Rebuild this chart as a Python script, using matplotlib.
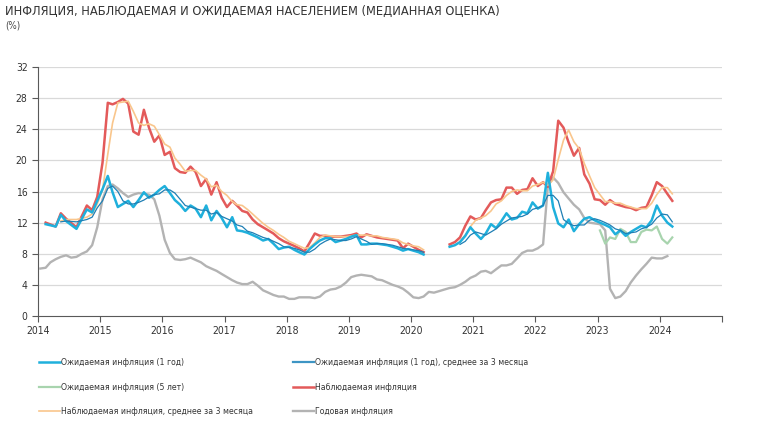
import matplotlib
matplotlib.use("Agg")
import matplotlib.pyplot as plt
from matplotlib.lines import Line2D
import numpy as np
import pandas as pd

plt.rcParams['font.family'] = ['DejaVu Sans']
plt.rcParams['font.stretch'] = 'condensed'

# survey months (2014 irregular, then monthly; gap Apr-Jul 2020 as None)
survey_months = ["2014-02", "2014-04", "2014-05", "2014-06", "2014-08", "2014-10", "2014-11", "2014-12"] + \
    [f"{y}-{m:02d}" for y in range(2015, 2025) for m in range(1, 13)][:111]

observed = [
    12.0, 11.5, 13.2, 12.5, 11.4, 14.2, 13.6, 15.3,
    19.7, 27.4, 27.2, 27.5, 27.9, 27.3, 23.7, 23.3, 26.5, 24.2, 22.4, 23.2,
    20.7, 21.1, 19.0, 18.5, 18.4, 19.2, 18.5, 16.7, 17.6, 15.6, 17.2, 15.2,
    14.0, 14.8, 14.2, 13.5, 13.3, 12.4, 11.8, 11.4, 11.0, 10.6, 10.0, 9.6,
    9.3, 9.0, 8.7, 8.3, 9.4, 10.6, 10.3, 10.3, 10.2, 10.2, 10.2, 10.3,
    10.4, 10.6, 10.1, 10.5, 10.3, 10.1, 10.0, 9.9, 9.8, 9.7, 8.7, 9.3,
    8.9, 8.5, 8.2, None, None, None, None, 9.2, 9.5, 10.1, 11.6, 12.8,
    12.4, 12.6, 13.6, 14.6, 14.9, 15.0, 16.5, 16.5, 15.7, 16.2, 16.3, 17.7,
    16.7, 17.2, 16.6, 18.6, 25.1, 24.2, 22.3, 20.6, 21.6, 18.2, 17.0, 15.0,
    14.9, 14.3, 14.9, 14.4, 14.2, 14.0, 13.9, 13.6, 13.9, 14.0, 15.5, 17.2,
    16.7, 15.7, 14.8]

observed_3m = [
    None, None, 12.2, 12.4, 12.4, 12.7, 13.1, 14.4,
    16.2, 20.8, 24.8, 27.4, 27.5, 27.6, 26.3, 24.8, 24.5, 24.7, 24.4, 23.3,
    22.1, 21.7, 20.3, 19.5, 18.6, 18.7, 18.7, 18.1, 17.6, 16.6, 16.8, 16.0,
    15.5, 14.7, 14.3, 14.2, 13.7, 13.1, 12.5, 11.9, 11.4, 11.0, 10.5, 10.1,
    9.6, 9.3, 9.0, 8.7, 8.8, 9.4, 10.1, 10.4, 10.3, 10.2, 10.2, 10.2,
    10.3, 10.4, 10.4, 10.4, 10.3, 10.3, 10.1, 10.0, 9.9, 9.8, 9.4, 9.2,
    9.0, 8.9, 8.5, None, None, None, None, None, None, 9.6, 10.4, 11.5,
    12.3, 12.6, 12.9, 13.5, 14.4, 14.8, 15.5, 16.0, 16.2, 16.1, 16.1, 16.7,
    16.9, 17.2, 16.8, 17.5, 20.1, 22.6, 23.9, 22.4, 21.5, 19.6, 18.0, 16.5,
    15.6, 14.7, 14.7, 14.5, 14.5, 14.2, 14.0, 13.8, 13.8, 13.8, 14.5, 15.6,
    16.5, 16.5, 15.7]

expected_1y = [
    11.8, 11.5, 13.0, 12.2, 11.2, 13.7, 13.3, 14.8,
    16.3, 18.0, 15.9, 14.0, 14.4, 14.8, 14.0, 14.9, 15.9, 15.2, 15.6, 16.2,
    16.7, 15.8, 14.9, 14.3, 13.5, 14.2, 13.8, 12.7, 14.2, 12.3, 13.5, 12.6,
    11.4, 12.7, 11.0, 10.9, 10.7, 10.4, 10.1, 9.7, 9.9, 9.3, 8.6, 8.8,
    8.9, 8.5, 8.2, 7.9, 8.6, 9.2, 9.7, 10.0, 10.0, 9.5, 9.7, 9.9,
    10.2, 10.4, 9.2, 9.2, 9.3, 9.3, 9.2, 9.1, 8.9, 8.7, 8.4, 8.6,
    8.4, 8.2, 7.9, None, None, None, None, 8.9, 9.1, 9.5, 10.3, 11.4,
    10.6, 9.9, 10.6, 11.8, 11.3, 12.2, 13.2, 12.4, 12.6, 13.4, 13.2, 14.6,
    13.8, 14.2, 18.4, 14.0, 11.9, 11.4, 12.4, 10.9, 11.8, 12.5, 12.7, 12.3,
    12.0, 11.7, 11.4, 10.5, 11.0, 10.3, 10.8, 11.2, 11.6, 11.4, 12.3, 14.2,
    12.9, 12.0, 11.5]

expected_1y_3m = [
    None, None, 12.1, 12.2, 12.1, 12.4, 12.7, 13.9,
    14.8, 16.4, 16.7, 16.0, 14.8, 14.4, 14.4, 14.6, 14.9, 15.3, 15.6, 15.7,
    16.2, 16.2, 15.8, 15.0, 14.2, 14.0, 13.8, 13.6, 13.6, 13.1, 13.3, 12.8,
    12.5, 12.2, 11.7, 11.5, 10.9, 10.7, 10.4, 10.1, 9.9, 9.6, 9.3, 8.9,
    8.8, 8.7, 8.5, 8.2, 8.2, 8.6, 9.2, 9.6, 9.9, 9.8, 9.7, 9.7,
    9.9, 10.2, 9.9, 9.6, 9.2, 9.3, 9.3, 9.2, 9.1, 8.9, 8.7, 8.6,
    8.5, 8.4, 8.2, None, None, None, None, None, None, 9.2, 9.6, 10.4,
    10.8, 10.6, 10.4, 10.8, 11.2, 11.8, 12.2, 12.6, 12.7, 12.8, 13.1, 13.7,
    13.9, 14.2, 15.5, 15.5, 14.8, 12.4, 11.9, 11.6, 11.7, 11.7, 12.3, 12.5,
    12.3, 12.0, 11.7, 11.2, 11.0, 10.6, 10.7, 10.8, 11.2, 11.4, 11.8, 12.6,
    13.1, 13.0, 12.1]

expected_5y_start = "2023-01"
expected_5y = [11.0, 9.3, 10.1, 9.9, 11.2, 10.8, 9.5, 9.5, 10.8, 11.1, 11.0, 11.5, 9.9, 9.3, 10.1]

cpi_start = "2014-01"
cpi = [
    6.1, 6.2, 6.9, 7.3, 7.6, 7.8, 7.5, 7.6, 8.0, 8.3, 9.1, 11.4,
    15.0, 16.7, 16.9, 16.4, 15.8, 15.3, 15.6, 15.8, 15.7, 15.6, 15.0, 12.9,
    9.8, 8.1, 7.3, 7.2, 7.3, 7.5, 7.2, 6.9, 6.4, 6.1, 5.8, 5.4,
    5.0, 4.6, 4.3, 4.1, 4.1, 4.4, 3.9, 3.3, 3.0, 2.7, 2.5, 2.5,
    2.2, 2.2, 2.4, 2.4, 2.4, 2.3, 2.5, 3.1, 3.4, 3.5, 3.8, 4.3,
    5.0, 5.2, 5.3, 5.2, 5.1, 4.7, 4.6, 4.3, 4.0, 3.8, 3.5, 3.0,
    2.4, 2.3, 2.5, 3.1, 3.0, 3.2, 3.4, 3.6, 3.7, 4.0, 4.4, 4.9,
    5.2, 5.7, 5.8, 5.5, 6.0, 6.5, 6.5, 6.7, 7.4, 8.1, 8.4, 8.4,
    8.7, 9.2, 16.7, 17.8, 17.1, 15.9, 15.1, 14.3, 13.7, 12.6, 12.0, 11.9,
    11.8, 11.0, 3.5, 2.3, 2.5, 3.2, 4.3, 5.2, 6.0, 6.7, 7.5, 7.4,
    7.4, 7.7]

labels = ["Ожидаемая инфляция (1 год)", "Ожидаемая инфляция (5 лет)",
          "Наблюдаемая инфляция, среднее за 3 месяца",
          "Ожидаемая инфляция (1 год), среднее за 3 месяца", "Наблюдаемая инфляция",
          "Годовая инфляция"]

mid = pd.Timedelta(days=14)
d_survey = pd.to_datetime(survey_months) + mid
d_cpi = pd.date_range(cpi_start, periods=len(cpi), freq="MS") + mid
d_5y = pd.date_range(expected_5y_start, periods=len(expected_5y), freq="MS") + mid


def arr(v):
    return np.array([np.nan if x is None else x for x in v], dtype=float)


c_cyan = "#1fb0dc"
c_dark = "#1f7fb4"
c_green = "#a8d4ae"
c_orange = "#f9c68c"
c_red = "#e35a5a"
c_gray = "#b3b3b3"

fig = plt.figure(figsize=(7.58, 4.24), dpi=100)
ax = fig.add_axes([38 / 758, 1 - 316 / 424, (722 - 38) / 758, (316 - 67) / 424])

for y in range(4, 33, 4):
    ax.axhline(y, color="#d9d9d9", lw=0.9, zorder=0)

ax.plot(d_cpi, cpi, color=c_gray, lw=1.7, zorder=2)
ax.plot(d_5y, expected_5y, color=c_green, lw=1.6, zorder=3)
ax.plot(d_survey, arr(observed), color=c_red, lw=1.8, zorder=4)
ax.plot(d_survey, arr(observed_3m), color=c_orange, lw=1.2, zorder=5)
ax.plot(d_survey, arr(expected_1y), color=c_cyan, lw=1.8, zorder=6)
ax.plot(d_survey, arr(expected_1y_3m), color=c_dark, lw=0.9, zorder=7)

ax.set_xlim(pd.Timestamp("2014-01-01"), pd.Timestamp("2025-01-01"))
ax.set_ylim(0, 32)
ax.set_yticks(range(0, 33, 4))
years = [pd.Timestamp(f"{y}-01-01") for y in range(2014, 2026)]
ax.set_xticks(years)
ax.set_xticklabels([str(y) for y in range(2014, 2025)] + [""])

for s in ["top", "right"]:
    ax.spines[s].set_visible(False)
for s in ["left", "bottom"]:
    ax.spines[s].set_color("#595959")
    ax.spines[s].set_linewidth(0.8)
ax.tick_params(axis="both", colors="#595959", labelcolor="#333333", labelsize=7.5, length=4, width=0.8)

fig.text(5 / 758, 1 - 11 / 424, "ИНФЛЯЦИЯ, НАБЛЮДАЕМАЯ И ОЖИДАЕМАЯ НАСЕЛЕНИЕМ (МЕДИАННАЯ ОЦЕНКА)",
         fontsize=9.2, color="#333333", va="center", ha="left")
fig.text(5 / 758, 1 - 26 / 424, "(%)", fontsize=7, color="#444444", va="center", ha="left")

colors = [c_cyan, c_green, c_orange, "#3d95c4", c_red, c_gray]
widths = [1.8, 1.6, 1.2, 1.6, 1.8, 1.7]
handles = [Line2D([], [], color=c, lw=w) for c, w in zip(colors, widths)]
for col, x0 in enumerate([35.5 / 758, 289.5 / 758]):
    leg = fig.legend(handles[col * 3:col * 3 + 3], labels[col * 3:col * 3 + 3],
                     loc="upper left", bbox_to_anchor=(x0, 1 - 355 / 424),
                     frameon=False, fontsize=6.2, handlelength=2.45, handletextpad=0.1,
                     labelspacing=1.75, borderaxespad=0)
    for t in leg.get_texts():
        t.set_color("#333333")

fig.savefig("out.png", dpi=100)
